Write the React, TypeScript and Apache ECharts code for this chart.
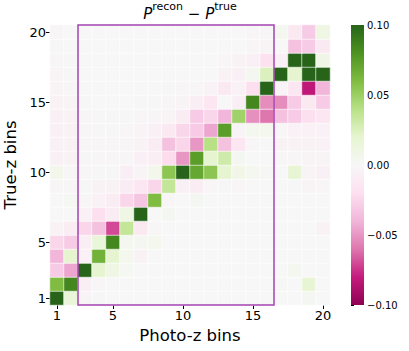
import React, { useEffect, useRef } from "react";
import * as echarts from "echarts";

const photoZBins = Array.from({ length: 20 }, (_, i) => String(i + 1));
const trueZBins = Array.from({ length: 20 }, (_, i) => String(i + 1));
const shownTicks = ["1", "5", "10", "15", "20"];
const colorbarTicks = [-0.1, -0.05, 0, 0.05, 0.1];
const piyg = ["#8e0152", "#c51b7d", "#de77ae", "#f1b6da", "#fde0ef", "#f7f7f7", "#e6f5d0", "#b8e186", "#7fbc41", "#4d9221", "#276419"];
const boxBins = ["3", "16"];

// residual rows: true-z bin 1 (bottom) .. 20 (top), columns photo-z bins 1..20
const row01 = [0.1, 0.015, -0.003, -0.001, 0, 0, 0, 0, 0, 0, 0, 0, 0, 0, 0, 0, 0, 0, 0.003, 0];
const row02 = [0.06, 0.085, -0.008, -0.002, 0, 0, 0, 0, 0, 0, 0, 0, 0, 0, 0, 0, 0.001, 0, 0.018, 0];
const row03 = [-0.03, -0.045, 0.1, 0.02, 0.01, 0.002, 0, 0, 0, 0, 0, 0, 0, 0, 0, 0, 0, 0.004, 0, 0];
const row04 = [-0.04, 0.02, -0.005, 0.065, 0.02, 0.005, -0.004, 0, 0, 0, 0, 0, 0, 0, 0, 0, 0, 0, 0, 0];
const row05 = [-0.025, -0.03, -0.008, 0.015, 0.085, 0.004, 0.003, 0.005, 0, 0, 0, 0, 0, 0, 0, 0, 0, 0, 0, 0];
const row06 = [-0.004, -0.01, -0.025, -0.035, -0.07, 0.035, -0.012, -0.002, 0, 0, 0, 0, 0, 0, 0, 0, 0, 0, 0, -0.004];
const row07 = [0, 0, -0.005, -0.02, -0.01, 0.01, 0.1, 0, 0.003, 0, 0, 0, 0, 0, 0, 0, 0, 0, 0, 0];
const row08 = [0, 0.002, -0.002, -0.005, -0.01, -0.025, -0.033, 0.06, -0.002, 0, 0.003, 0, 0, 0, 0, 0, 0, 0, 0, 0];
const row09 = [-0.002, -0.002, -0.001, -0.004, -0.004, -0.01, -0.015, -0.025, 0.035, -0.006, -0.01, -0.002, -0.001, -0.002, 0, 0, 0, -0.001, -0.003, -0.002];
const row10 = [0.006, -0.002, -0.002, -0.001, -0.001, -0.008, -0.003, 0.006, 0.055, 0.1, 0.07, 0.055, 0.02, 0.007, 0.004, 0.001, 0, 0.018, -0.003, -0.006];
const row11 = [-0.006, -0.004, -0.001, -0.002, -0.002, -0.002, -0.006, -0.008, -0.022, -0.05, 0.075, 0.02, 0.03, 0.003, 0, 0, -0.002, -0.002, -0.003, -0.003];
const row12 = [-0.006, -0.004, -0.002, -0.002, -0.002, -0.002, -0.004, -0.01, -0.035, -0.025, -0.05, 0.04, -0.035, -0.015, -0.002, 0, -0.004, -0.004, -0.004, -0.005];
const row13 = [-0.006, -0.004, -0.002, -0.001, -0.001, -0.002, -0.003, -0.006, -0.012, -0.025, -0.03, -0.045, 0.075, -0.003, 0.004, 0.005, -0.002, -0.005, -0.005, -0.005];
const row14 = [-0.006, -0.004, -0.002, -0.001, -0.001, -0.001, -0.002, -0.002, -0.003, -0.01, -0.03, -0.025, -0.04, 0.048, -0.052, -0.06, -0.035, -0.03, -0.02, -0.015];
const row15 = [-0.004, -0.003, -0.001, 0, 0, 0, -0.001, -0.001, -0.002, -0.003, -0.008, -0.015, 0, -0.008, 0.085, -0.053, -0.053, -0.03, -0.012, -0.03];
const row16 = [-0.003, -0.002, 0, 0, 0, 0, 0, 0, -0.001, -0.002, -0.002, -0.004, -0.012, -0.005, -0.02, 0.1, -0.003, -0.015, -0.082, -0.04];
const row17 = [-0.003, -0.001, 0, 0, 0, 0, 0, 0, 0, 0, 0, 0, -0.004, -0.006, 0.004, 0.025, 0.1, 0.02, 0.1, 0.1];
const row18 = [-0.002, -0.001, 0, 0, 0, 0, 0, 0, 0, 0, 0, 0, -0.002, -0.004, -0.006, -0.018, -0.006, 0.1, 0.1, 0.008];
const row19 = [-0.001, 0, 0, 0, 0, 0, 0, 0, 0, 0, 0, 0, 0, 0, -0.002, -0.003, 0, -0.035, -0.03, -0.012];
const row20 = [-0.002, 0, 0, 0, 0, 0, 0, 0, 0, 0, 0, 0, 0, 0, -0.002, -0.002, 0.004, -0.012, -0.03, 0.01];

const rows = [row01, row02, row03, row04, row05, row06, row07, row08, row09, row10, row11, row12, row13, row14, row15, row16, row17, row18, row19, row20];

const FONT = "DejaVu Sans";

export default function App() {
  const ref = useRef<HTMLDivElement>(null);
  useEffect(() => {
    document.body.style.margin = "0";
    const chart = echarts.init(ref.current!, null, { renderer: "svg" });
    const data: number[][] = [];
    rows.forEach((r, yi) => r.forEach((v, xi) => data.push([xi, yi, v])));
    const showTick = (_i: number, v: string) => shownTicks.includes(v);
    const bx0 = photoZBins.indexOf(boxBins[0]);
    const bx1 = photoZBins.indexOf(boxBins[1]);

    chart.setOption({
      animation: false,
      textStyle: { fontFamily: FONT },
      graphic: [
        {
          type: "text",
          x: 190,
          y: 1,
          style: {
            text: "{i|P}{s|recon}{m| − }{i|P}{s|true}",
            textAlign: "center",
            fill: "#000",
            rich: {
              i: { fontFamily: FONT, fontStyle: "italic", fontSize: 15, lineHeight: 20, verticalAlign: "bottom" },
              s: { fontFamily: FONT, fontSize: 11, verticalAlign: "top", lineHeight: 20 },
              m: { fontFamily: FONT, fontSize: 15, lineHeight: 20, verticalAlign: "bottom" },
            },
          },
        },
      ],
      grid: [
        { left: 50, top: 25, width: 280, height: 280, outerBoundsMode: "none", containLabel: false },
        { left: 351, top: 25, width: 13, height: 280, outerBoundsMode: "none", containLabel: false },
      ],
      xAxis: [
        {
          type: "category",
          gridIndex: 0,
          data: photoZBins,
          name: "Photo-z bins",
          nameLocation: "middle",
          nameGap: 22,
          nameTextStyle: { fontSize: 16.5, color: "#000", fontFamily: FONT },
          axisLine: { show: false },
          axisTick: { show: true, interval: showTick, alignWithLabel: true, length: 4, lineStyle: { color: "#000" } },
          axisLabel: { interval: showTick, fontSize: 13, color: "#000", margin: 4, fontFamily: FONT },
          splitLine: { show: false },
        },
        { type: "value", gridIndex: 1, min: 0, max: 1, show: false },
      ],
      yAxis: [
        {
          type: "category",
          gridIndex: 0,
          data: trueZBins,
          name: "True-z bins",
          nameLocation: "middle",
          nameGap: 25,
          nameTextStyle: { fontSize: 16.5, color: "#000", fontFamily: FONT },
          axisLine: { show: false },
          axisTick: { show: true, interval: showTick, alignWithLabel: true, length: 4, lineStyle: { color: "#000" } },
          axisLabel: { interval: showTick, fontSize: 13, color: "#000", margin: 4, fontFamily: FONT },
          splitLine: { show: false },
        },
        {
          type: "value",
          gridIndex: 1,
          position: "right",
          min: -0.1,
          max: 0.1,
          interval: 0.05,
          axisLine: { show: false },
          splitLine: { show: false },
          axisTick: { show: true, length: 3, lineStyle: { color: "#000" } },
          axisLabel: {
            fontSize: 10,
            color: "#000",
            margin: 3,
            fontFamily: FONT,
            formatter: (v: number) => (v < -1e-9 ? "−" : "") + Math.abs(v).toFixed(2),
          },
        },
      ],
      visualMap: {
        type: "continuous",
        show: false,
        min: -0.1,
        max: 0.1,
        seriesIndex: 0,
        inRange: { color: piyg },
      },
      series: [
        {
          type: "heatmap",
          xAxisIndex: 0,
          yAxisIndex: 0,
          data,
          itemStyle: { borderColor: "#ffffff", borderWidth: 0.6 },
          emphasis: { disabled: true },
        },
        {
          type: "custom",
          xAxisIndex: 0,
          yAxisIndex: 0,
          data: [[bx0, 0, bx1, trueZBins.length - 1]],
          silent: true,
          z: 5,
          renderItem: (_p: any, api: any) => {
            const a = api.coord([api.value(0), api.value(3)]);
            const b = api.coord([api.value(2), api.value(1)]);
            const sz = api.size([1, 1]);
            const x0 = a[0] - sz[0] / 2;
            const y0 = a[1] - sz[1] / 2;
            const x1 = b[0] + sz[0] / 2;
            const y1 = b[1] + sz[1] / 2;
            return {
              type: "rect",
              shape: { x: x0, y: y0, width: x1 - x0, height: y1 - y0 },
              style: { fill: "none", stroke: "#a343b0", lineWidth: 1.5 },
            };
          },
        },
        {
          type: "custom",
          xAxisIndex: 1,
          yAxisIndex: 1,
          data: [[0, colorbarTicks[0], 1, colorbarTicks[colorbarTicks.length - 1]]],
          silent: true,
          renderItem: (_p: any, api: any) => {
            const a = api.coord([api.value(0), api.value(3)]);
            const b = api.coord([api.value(2), api.value(1)]);
            const stops = piyg
              .slice()
              .reverse()
              .map((c, i) => ({ offset: i / (piyg.length - 1), color: c }));
            return {
              type: "rect",
              shape: { x: a[0], y: a[1], width: b[0] - a[0], height: b[1] - a[1] },
              style: { fill: { type: "linear", x: 0, y: 0, x2: 0, y2: 1, colorStops: stops } },
            };
          },
        },
      ],
    });
    return () => chart.dispose();
  }, []);
  return <div ref={ref} style={{ width: 409, height: 351 }} />;
}
